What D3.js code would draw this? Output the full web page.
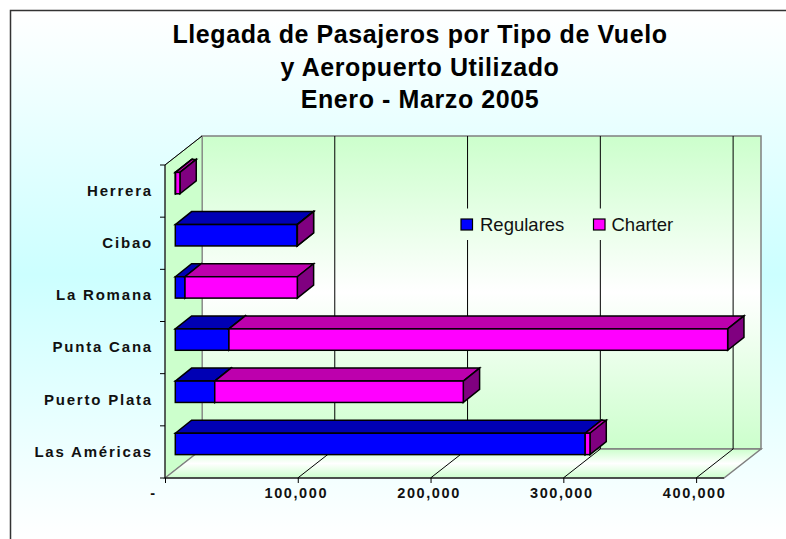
<!DOCTYPE html>
<html>
<head>
<meta charset="utf-8">
<script src="https://cdn.jsdelivr.net/npm/d3@7"></script>
<style>
  html, body { margin: 0; padding: 0; background: #fff; }
  svg { display: block; font-family: "Liberation Sans", Arial, sans-serif; }
</style>
</head>
<body>
<svg id="chart" width="786" height="539"></svg>
<script>
// datos
const aeropuertos = ["Herrera", "Cibao", "La Romana", "Punta Cana", "Puerto Plata", "Las Américas"];
const regulares = [200, 91800, 7300, 40400, 29700, 308700];
const charter = [3300, 100, 84600, 375600, 187200, 3600];
const series = ["Regulares", "Charter"];
const ticksX = [0, 100000, 200000, 300000, 400000];
const titulo = ["Llegada de Pasajeros por Tipo de Vuelo", "y Aeropuerto Utilizado", "Enero - Marzo 2005"];

const svg = d3.select("#chart");
const defs = svg.append("defs");

function gradiente(id, y1, y2, stops) {
    const g = defs.append("linearGradient")
        .attr("id", id)
        .attr("gradientUnits", "userSpaceOnUse")
        .attr("x1", 0).attr("x2", 0)
        .attr("y1", y1).attr("y2", y2);
    stops.forEach(s => g.append("stop").attr("offset", s[0]).attr("stop-color", s[1]));
}
gradiente("fondo", 10, 539, [[0, "#ffffff"], [0.5, "#ccffff"], [1, "#ffffff"]]);
gradiente("pared", 136, 449, [[0, "#ccffcc"], [0.5, "#ffffff"], [1, "#ccffcc"]]);
gradiente("piso", 449, 478, [[0, "#ccffcc"], [0.5, "#ffffff"], [1, "#ccffcc"]]);

// geometria de la caja 3D
const boxLeft = 165, boxRight = 724, boxTop = 165, boxBottom = 478;
const depthX = 37, depthY = 29;      // profundidad de la caja
const barX = 10.3, barY = 8;         // separacion de la barra respecto al frente
const barDX = 16.3, barDY = 13;      // profundidad de la barra

const x = d3.scaleLinear().domain([0, 421000]).range([boxLeft, boxRight]);
const y = d3.scaleBand().domain(aeropuertos).range([boxTop, boxBottom]);
const yBar = d3.scaleBand().domain(aeropuertos).range([boxTop - barY, boxBottom - barY])
    .paddingInner(0.59).paddingOuter(0.295);

const poly = pts => pts.map(p => p.join(",")).join(" ");

// fondo y marco
svg.append("rect").attr("x", 10).attr("y", 10).attr("width", 776).attr("height", 529)
    .attr("fill", "url(#fondo)");
svg.append("path").attr("d", "M10.5,539V10.5H786")
    .attr("fill", "none").attr("stroke", "#333").attr("stroke-width", 1.5);

// titulo
svg.append("g").selectAll("text").data(titulo).join("text")
    .attr("x", 420)
    .attr("y", (d, i) => [43, 76, 108][i])
    .attr("text-anchor", "middle")
    .attr("font-size", 25)
    .attr("letter-spacing", 0.6)
    .attr("font-weight", "bold")
    .attr("fill", "#000")
    .text(d => d);

// paredes
svg.append("polygon")
    .attr("points", poly([[boxLeft + depthX, boxTop - depthY], [boxRight + depthX, boxTop - depthY], [boxRight + depthX, boxBottom - depthY], [boxLeft + depthX, boxBottom - depthY]]))
    .attr("fill", "url(#pared)").attr("stroke", "#808080").attr("stroke-width", 1.5);
svg.append("polygon")
    .attr("points", poly([[boxLeft, boxTop], [boxLeft + depthX, boxTop - depthY], [boxLeft + depthX, boxBottom - depthY], [boxLeft, boxBottom]]))
    .attr("fill", "#ccffcc").attr("stroke", "#808080").attr("stroke-width", 1);
svg.append("polygon")
    .attr("points", poly([[boxLeft, boxBottom], [boxLeft + depthX, boxBottom - depthY], [boxRight + depthX, boxBottom - depthY], [boxRight, boxBottom]]))
    .attr("fill", "url(#piso)").attr("stroke", "#808080").attr("stroke-width", 1.5);

// lineas de division
svg.append("g").selectAll("path").data(ticksX.slice(1)).join("path")
    .attr("d", d => `M${x(d)},${boxBottom}L${x(d) + depthX},${boxBottom - depthY}V${boxTop - depthY}`)
    .attr("fill", "none").attr("stroke", "#000").attr("stroke-width", 1);

// borde del eje vertical
svg.append("line")
    .attr("x1", boxLeft).attr("y1", boxTop).attr("x2", boxLeft + depthX).attr("y2", boxTop - depthY)
    .attr("stroke", "#000");

// barras
const barras = svg.append("g").attr("stroke", "#000").attr("stroke-width", 1.5).attr("stroke-linejoin", "miter");
aeropuertos.forEach((a, i) => {
    const segs = [
        { x0: 0, x1: regulares[i], front: "#0000ff", topC: "#0000b4", side: "#800080" },
        { x0: regulares[i], x1: regulares[i] + charter[i], front: "#ff00ff", topC: "#bd00ad", side: "#800080" }
    ];
    const y0 = yBar(a), y1 = y0 + yBar.bandwidth();
    segs.forEach(s => {
        const xa = x(s.x0) + barX, xb = x(s.x1) + barX;
        barras.append("polygon").attr("fill", s.topC)
            .attr("points", poly([[xa, y0], [xa + barDX, y0 - barDY], [xb + barDX, y0 - barDY], [xb, y0]]));
        barras.append("polygon").attr("fill", s.side)
            .attr("points", poly([[xb, y0], [xb + barDX, y0 - barDY], [xb + barDX, y1 - barDY], [xb, y1]]));
        barras.append("rect").attr("fill", s.front)
            .attr("x", xa).attr("y", y0).attr("width", xb - xa).attr("height", y1 - y0);
    });
});

// ejes
const axisX = d3.axisBottom(x)
    .tickValues(ticksX)
    .tickSize(5)
    .tickPadding(5)
    .tickFormat(d => d === 0 ? "-" : d3.format(",")(d));
const gx = svg.append("g").attr("transform", `translate(0,${boxBottom})`).call(axisX);
gx.select(".domain").attr("d", `M${boxLeft},0H${boxRight}`).attr("stroke", "#000");
gx.selectAll("text")
    .attr("font-size", 14.5).attr("font-weight", "bold").attr("letter-spacing", 1.6)
    .attr("font-family", "Liberation Sans").attr("fill", "#111")
    .attr("dx", -2);
gx.selectAll(".tick").filter(d => d === 0).select("text").attr("dx", -12);

const axisY = d3.axisLeft(y).tickSize(0).tickPadding(12);
const gy = svg.append("g").attr("transform", `translate(${boxLeft},0)`).call(axisY);
gy.select(".domain").remove();
gy.selectAll("text")
    .attr("font-size", 15).attr("font-weight", "bold").attr("letter-spacing", 1.8)
    .attr("font-family", "Liberation Sans").attr("fill", "#111");

svg.append("path")
    .attr("d", `M${boxLeft},${boxTop}V${boxBottom}` + aeropuertos.map(a => `M${boxLeft - 5},${y(a)}H${boxLeft}`).join("") + `M${boxLeft - 5},${boxBottom}H${boxLeft}`)
    .attr("fill", "none").attr("stroke", "#000");

// leyenda
svg.append("rect").attr("x", 455).attr("y", 208.5).attr("width", 225).attr("height", 31.5)
    .attr("fill", "url(#pared)");
const colores = d3.scaleOrdinal().domain(series).range(["#0000ff", "#ff00ff"]);
const posLeyenda = d3.scaleOrdinal().domain(series).range([461, 593.5]);
const ley = svg.append("g").selectAll("g").data(series).join("g")
    .attr("transform", d => `translate(${posLeyenda(d)},219)`);
ley.append("rect").attr("width", 11.5).attr("height", 11)
    .attr("fill", d => colores(d)).attr("stroke", "#000").attr("stroke-width", 1.2);
ley.append("text").attr("x", d => d === "Regulares" ? 19 : 18).attr("y", 11.5)
    .attr("font-size", 18.5).attr("fill", "#111")
    .text(d => d);
</script>
</body>
</html>
